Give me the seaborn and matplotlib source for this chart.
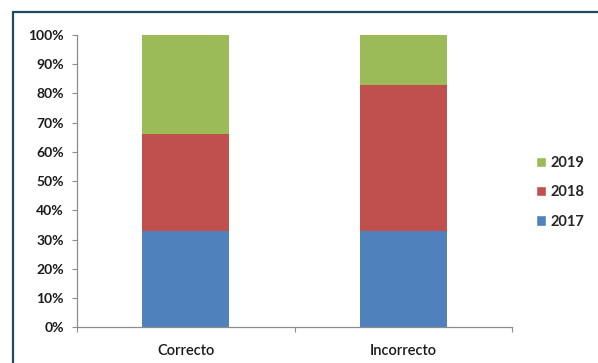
import matplotlib
matplotlib.use("Agg")
import matplotlib.pyplot as plt
from matplotlib.lines import Line2D
from matplotlib.patches import Patch
from matplotlib.ticker import FuncFormatter, FixedLocator
import seaborn as sns
import pandas as pd
import numpy as np

categories = ["Correcto", "Incorrecto"]
years = ["2017", "2018", "2019"]
share_2017 = [33, 33]
share_2018 = [33, 50]
share_2019 = [34, 17]
colors = {"2017": "#4F81BD", "2018": "#C0504D", "2019": "#9BBB59"}

sns.set_theme(style="white")
plt.rcParams["font.family"] = ["Lato", "DejaVu Sans"]

fig = plt.figure(figsize=(5.98, 3.63), dpi=100)
ax = fig.add_axes([0.1288, 0.0983, 0.7274, 0.8053])

# stacked tops, drawn from the tallest segment down so each covers the next
series = {"2017": share_2017, "2018": share_2018, "2019": share_2019}
cum = np.cumsum([series[y] for y in years], axis=0)
for i in reversed(range(len(years))):
    df = pd.DataFrame({"cat": categories, "val": cum[i]})
    sns.barplot(data=df, x="cat", y="val", color=colors[years[i]],
                saturation=1, width=0.4, ax=ax, errorbar=None, linewidth=0)

ax.set_xlim(-0.5, 1.5)
ax.set_ylim(0, 100)
ax.set_yticks(np.arange(0, 101, 10))
ax.yaxis.set_major_formatter(FuncFormatter(lambda v, p: f"{int(v)}%"))
ax.set_xlabel("")
ax.set_ylabel("")

for side in ["top", "right"]:
    ax.spines[side].set_visible(False)
for side in ["left", "bottom"]:
    ax.spines[side].set_color("#8c8c8c")
    ax.spines[side].set_linewidth(0.9)

ax.tick_params(axis="y", which="major", left=True, direction="out", length=3.5,
               width=0.8, color="#8c8c8c", pad=6, labelsize=10, labelcolor="#1a1a1a")
for lab in ax.get_yticklabels():
    lab.set_fontweight("bold")
ax.tick_params(axis="x", which="major", bottom=False, pad=6, labelsize=10.5,
               labelcolor="#1a1a1a")
for lab in ax.get_xticklabels():
    lab.set_fontweight("semibold")
ax.xaxis.set_minor_locator(FixedLocator([-0.5, 0.5, 1.5]))
ax.tick_params(axis="x", which="minor", bottom=True, direction="out", length=3.5,
               width=0.8, color="#8c8c8c")

handles = [Patch(facecolor=colors[y], label=y) for y in reversed(years)]
fig.legend(handles=handles, loc="center left", bbox_to_anchor=(0.874, 0.47),
           frameon=False, handlelength=0.7, handleheight=0.7, handletextpad=0.3,
           labelspacing=1.05, prop={"size": 10.5, "weight": "bold"})

# outer frame along the top and left edges
frame_color = "#1d4a5c"
fig.add_artist(Line2D([13 / 598, 1.0], [1 - 12 / 363, 1 - 12 / 363],
                      transform=fig.transFigure, color=frame_color, lw=1.6))
fig.add_artist(Line2D([13 / 598, 13 / 598], [0.0, 1 - 12 / 363],
                      transform=fig.transFigure, color=frame_color, lw=1.6))

fig.savefig("out.png", dpi=100)
